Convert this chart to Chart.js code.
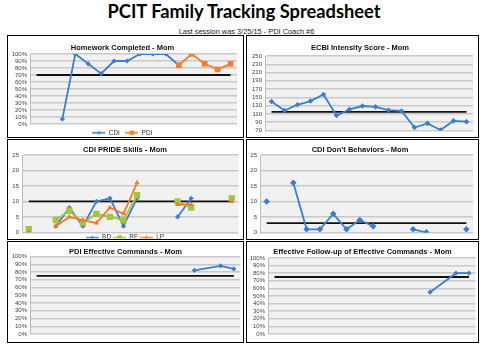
<!DOCTYPE html>
<html><head><meta charset="utf-8">
<script src="https://cdn.jsdelivr.net/npm/chart.js@4.4.0/dist/chart.umd.min.js"></script>
<style>
html,body{margin:0;padding:0;background:#fff;}
body{width:488px;height:346px;position:relative;overflow:hidden;font-family:"Liberation Sans",Arial,sans-serif;}
#title{position:absolute;left:0;top:1px;width:488px;text-align:center;font-family:Lato,"Open Sans",sans-serif;font-weight:bold;font-size:18px;line-height:20px;color:#000;white-space:nowrap;}
#sub{position:absolute;left:0;top:28px;width:493px;text-align:center;font-size:7.4px;line-height:8px;color:#222;white-space:nowrap;}
.box{position:absolute;border:1px solid #000;box-sizing:border-box;background:#fff;overflow:hidden;}
.box canvas{display:block;}
</style></head>
<body>
<div id="title">PCIT Family Tracking Spreadsheet</div>
<div id="sub">Last session was 3/25/15 - PDI Coach #6</div>
<div class="box" style="left:7px;top:35px;width:237px;height:103px"><canvas id="c1" width="235" height="101"></canvas></div>
<div class="box" style="left:246px;top:35px;width:233px;height:103px"><canvas id="c2" width="231" height="101"></canvas></div>
<div class="box" style="left:7px;top:139px;width:237px;height:101px"><canvas id="c3" width="235" height="99"></canvas></div>
<div class="box" style="left:246px;top:139px;width:233px;height:101px"><canvas id="c4" width="231" height="99"></canvas></div>
<div class="box" style="left:7px;top:241px;width:237px;height:102px"><canvas id="c5" width="235" height="100"></canvas></div>
<div class="box" style="left:246px;top:241px;width:233px;height:102px"><canvas id="c6" width="231" height="100"></canvas></div>
<script>
// ---------- DATA ----------
const sessions = ['1','2','3','4','5','6','7','8','9','10','11','12','13','14','15','16'];

const hwCDI = [null,null,7,100,86,72,90,90,100,100,100,84,null,null,null,null];
const hwPDI = [null,null,null,null,null,null,null,null,null,null,null,84,100,86,78,86];
const hwTarget = 70;

const ecbiScores = [140,118,132,141,157,106,121,129,127,119,117,77,87,71,93,91];
const ecbiTarget = 115;

const prideBD = [null,null,2,8,2,10,11,2,11,null,null,5,11,null,null,null];
const prideRF = [1,null,4,7,3,6,5,4,12,null,null,10,8,null,null,11];
const prideLP = [0,null,2,5,4,3,8,6,16,null,null,9,9,null,null,10];
const prideTarget = 10;

const dontBehaviors = [10,null,16,1,1,6,1,4,2,null,null,1,0,null,null,1];
const dontTarget = 3;

const pdiCommands = [null,null,null,null,null,null,null,null,null,null,null,null,82,null,88,84];
const pdiCommandsTarget = 75;

const followUp = [null,null,null,null,null,null,null,null,null,null,null,null,55,null,80,80];
const followUpTarget = 75;

// ---------- STYLE ----------
const BLUE = '#3b7fcc', ORANGE = '#f07f2e', GREEN = '#a6c43f', LPOR = '#f4792b';
const FONT = '"Liberation Sans", Arial, sans-serif';
const GRID = '#c9c9c9';

// fit main title width
(function(){
  const t = document.getElementById('title');
  const span = document.createElement('span'); span.textContent = t.textContent; t.textContent=''; t.appendChild(span);
  const w = span.offsetWidth; const fs = 18 * 273 / w;
  t.style.fontSize = fs.toFixed(2) + 'px';
})();

function legendIcon(color, shape, size){
  const c = document.createElement('canvas'); c.width = 13; c.height = 8;
  const g = c.getContext('2d');
  g.strokeStyle = color; g.lineWidth = 1.6;
  g.beginPath(); g.moveTo(0,4); g.lineTo(13,4); g.stroke();
  g.fillStyle = color;
  if (shape === 'diamond'){ g.beginPath(); g.moveTo(6.5,4-size); g.lineTo(6.5+size,4); g.lineTo(6.5,4+size); g.lineTo(6.5-size,4); g.closePath(); g.fill(); }
  else if (shape === 'square'){ g.fillRect(6.5-size,4-size,size*2,size*2); }
  else if (shape === 'tri'){ g.beginPath(); g.moveTo(6.5,4-size); g.lineTo(6.5+size,4+size*0.8); g.lineTo(6.5-size,4+size*0.8); g.closePath(); g.fill(); }
  return c;
}

const plotBg = {
  id: 'plotBg',
  beforeDraw(chart){
    const a = chart.chartArea, ctx = chart.ctx;
    ctx.save(); ctx.fillStyle = '#f1f1f1';
    ctx.fillRect(a.left, a.top, a.right - a.left, a.bottom - a.top);
    ctx.restore();
  }
};

function series(label, data, color, style, radius, icon, order){
  return { label, data, borderColor: color, backgroundColor: color, borderWidth: 1.8,
    pointStyle: style, pointRadius: radius, pointHoverRadius: radius, pointBorderWidth: 0,
    tension: 0, spanGaps: false, legendIcon: icon, order: order };
}
function targetLine(v){
  return { label: 'target', data: sessions.map(() => v), borderColor: '#111', borderWidth: 1.8,
    pointRadius: 0, tension: 0, order: 9 };
}

function build(id, o){
  const legendOn = !!o.legend;
  new Chart(document.getElementById(id), {
    type: 'line',
    data: { labels: sessions, datasets: o.datasets },
    plugins: [plotBg],
    options: {
      responsive: false, animation: false, devicePixelRatio: 1,
      layout: { padding: o.pad },
      plugins: {
        title: { display: true, text: o.title, color: '#111',
          font: { family: FONT, size: 7.5, weight: 'bold', lineHeight: 1.2 },
          padding: o.titlePad },
        legend: legendOn ? {
          display: true, position: 'bottom', maxHeight: o.legend.h,
          labels: { usePointStyle: true, pointStyleWidth: 13, padding: o.legend.p, color: '#333',
            font: { family: FONT, size: 6.5 },
            sort: (a, b) => a.datasetIndex - b.datasetIndex,
            generateLabels(chart){
              const items = Chart.defaults.plugins.legend.labels.generateLabels(chart);
              return items.filter(it => chart.data.datasets[it.datasetIndex].legendIcon)
                .map(it => { it.pointStyle = chart.data.datasets[it.datasetIndex].legendIcon; return it; });
            } }
        } : { display: false },
        tooltip: { enabled: false }
      },
      scales: {
        x: { type: 'category', offset: true, display: false },
        y: { min: o.min, max: o.max,
          ticks: { stepSize: o.step, autoSkip: false, padding: 3, color: '#444',
            font: { family: FONT, size: 6 },
            callback: o.pct ? (v => v + '%') : (v => v) },
          grid: { color: GRID, lineWidth: 1.5, drawTicks: false },
          border: { display: true, color: '#bdbdbd', width: 1 },
          afterFit(s){ s.width = o.yw; } }
      }
    }
  });
}

// 1 Homework
build('c1', {
  title: 'Homework Completed - Mom', min: 0, max: 100, step: 10, pct: true, yw: 22,
  pad: { left: 0, right: 6, top: 0, bottom: 0 }, titlePad: { top: 7.5, bottom: 1.5 },
  legend: { h: 13, p: 5.5 },
  datasets: [
    series('CDI', hwCDI, BLUE, 'rectRot', 2.6, legendIcon(BLUE, 'diamond', 2), 2),
    series('PDI', hwPDI, ORANGE, 'rect', 4, legendIcon(ORANGE, 'square', 2.3), 1),
    targetLine(hwTarget)
  ]
});
// 2 ECBI
build('c2', {
  title: 'ECBI Intensity Score - Mom', min: 70, max: 250, step: 20, pct: false, yw: 18,
  pad: { left: 0, right: 5, top: 0, bottom: 5 }, titlePad: { top: 7.5, bottom: 3.5 },
  datasets: [
    series('ECBI', ecbiScores, BLUE, 'rectRot', 2.8, null, 1),
    targetLine(ecbiTarget)
  ]
});
// 3 PRIDE
build('c3', {
  title: 'CDI PRIDE Skills - Mom', min: 0, max: 25, step: 5, pct: false, yw: 14,
  pad: { left: 0, right: 1, top: 0, bottom: 0 }, titlePad: { top: 5.5, bottom: 0.5 },
  legend: { h: 6, p: 2 },
  datasets: [
    series('BD', prideBD, BLUE, 'rectRot', 2.6, legendIcon(BLUE, 'diamond', 2), 3),
    series('RF', prideRF, GREEN, 'rect', 4.5, legendIcon(GREEN, 'square', 2.5), 2),
    series('LP', prideLP, LPOR, 'triangle', 3, legendIcon(LPOR, 'tri', 2.5), 1),
    targetLine(prideTarget)
  ]
});
// 4 Don't
build('c4', {
  title: 'CDI Don\u2019t Behaviors - Mom', min: 0, max: 25, step: 5, pct: false, yw: 13,
  pad: { left: 0, right: 5, top: 0, bottom: 5 }, titlePad: { top: 5.5, bottom: 0.5 },
  datasets: [
    series('Don\u2019t', dontBehaviors, BLUE, 'rectRot', 3.3, null, 1),
    targetLine(dontTarget)
  ]
});
// 5 PDI Effective Commands
build('c5', {
  title: 'PDI Effective Commands - Mom', min: 0, max: 100, step: 10, pct: true, yw: 22,
  pad: { left: 0, right: 0, top: 0, bottom: 8 }, titlePad: { top: 5.5, bottom: 0 },
  datasets: [
    Object.assign(series('PDI', pdiCommands, BLUE, 'rectRot', 2.6, null, 1), { spanGaps: true }),
    targetLine(pdiCommandsTarget)
  ]
});
// 6 Follow-up
build('c6', {
  title: 'Effective Follow-up of Effective Commands - Mom', min: 0, max: 100, step: 10, pct: true, yw: 21,
  pad: { left: 0, right: 0, top: 0, bottom: 8 }, titlePad: { top: 5.5, bottom: 1.5 },
  datasets: [
    Object.assign(series('Follow-up', followUp, BLUE, 'rectRot', 2.6, null, 1), { spanGaps: true }),
    targetLine(followUpTarget)
  ]
});
</script>
</body></html>
